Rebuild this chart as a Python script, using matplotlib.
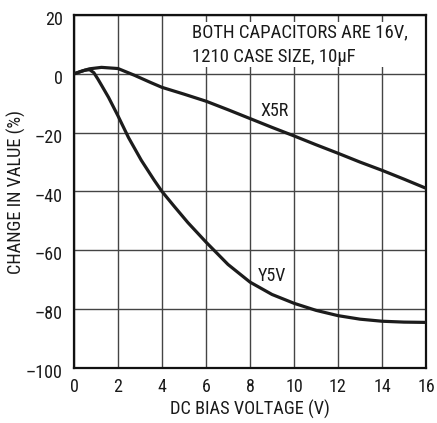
import matplotlib
matplotlib.use("Agg")
import matplotlib.pyplot as plt
import matplotlib.transforms as mtransforms

plt.rcParams['font.family'] = ['Roboto Condensed', 'DejaVu Sans']
plt.rcParams['font.stretch'] = 'condensed'

# DC bias voltage (V) and change in capacitance (%)
x5r_v = [0, 0.35, 0.7, 1.25, 2, 2.75, 3.5, 4, 5, 6, 7, 8, 9, 10, 11, 12,
         13, 14, 15, 16]
x5r_pct = [0, 0.9, 1.7, 2.2, 1.8, -0.5, -3, -4.6, -6.9, -9.3, -12.2, -15.2,
           -18.2, -21.1, -24.1, -27.0, -30.0, -32.8, -35.8, -38.9]

y5v_v = [0, 0.35, 0.5, 0.71, 0.9, 1.08, 1.26, 1.57, 2, 2.48, 3.06, 3.64, 4,
         4.55, 5.18, 6, 7, 8, 9, 10, 11, 12, 13, 14, 15, 16]
y5v_pct = [0, 0.9, 1.25, 1.4, 0.4, -1.7, -4.0, -8.0, -14.3, -21.7, -29.4,
           -36.1, -40, -45, -50.6, -57.2, -64.8, -70.8, -75.0, -78.0, -80.4,
           -82.2, -83.4, -84.1, -84.4, -84.5]

x_ticks = [0, 2, 4, 6, 8, 10, 12, 14, 16]
y_ticks = [20, 0, -20, -40, -60, -80, -100]

note = "BOTH CAPACITORS ARE 16V,\n1210 CASE SIZE, 10\u00b5F"

fig = plt.figure(figsize=(4.37, 4.23), dpi=100)
ax = fig.add_axes([74 / 437, 55 / 423, 352 / 437, 353 / 423])

ax.plot(x5r_v, x5r_pct, color="#1c1c1c", lw=2.3, zorder=4)
ax.plot(y5v_v, y5v_pct, color="#1c1c1c", lw=2.3, zorder=4)

ax.set_xlim(0, 16)
ax.set_ylim(-100, 20)
ax.set_xticks(x_ticks)
ax.set_yticks(y_ticks)
ax.set_yticklabels([str(t).replace("-", "\u2013") for t in y_ticks])
ax.grid(True, color="#444444", lw=1.0)
ax.set_axisbelow(True)
ax.tick_params(length=0, labelsize=13, colors="#1a1a1a", pad=7)
ax.tick_params(axis="y", pad=8)
for s in ax.spines.values():
    s.set_linewidth(1.6)
    s.set_color("#111111")

# y tick labels sit a touch low in the original
off = mtransforms.ScaledTranslation(0, -3 / 100, fig.dpi_scale_trans)
for lab in ax.get_yticklabels():
    lab.set_transform(lab.get_transform() + off)

ax.set_xlabel("DC BIAS VOLTAGE (V)", fontsize=13.2, color="#1a1a1a")
ax.set_ylabel("CHANGE IN VALUE (%)", fontsize=13.2, color="#1a1a1a")
ax.xaxis.set_label_coords(0.5, -0.09)
ax.yaxis.set_label_coords(-0.135, 0.5)

ax.text(9.1, -12.7, "X5R", fontsize=13, ha="center", va="center",
        color="#1a1a1a", zorder=5)
ax.text(9.0, -68.8, "Y5V", fontsize=13, ha="center", va="center",
        color="#1a1a1a", zorder=5)
ax.text(5.35, 10.0, note, fontsize=13.5, ha="left", va="center",
        color="#1a1a1a", linespacing=1.45, zorder=3,
        bbox=dict(boxstyle="square,pad=0.08", fc="white", ec="none"))

fig.savefig("out.png", dpi=100)
